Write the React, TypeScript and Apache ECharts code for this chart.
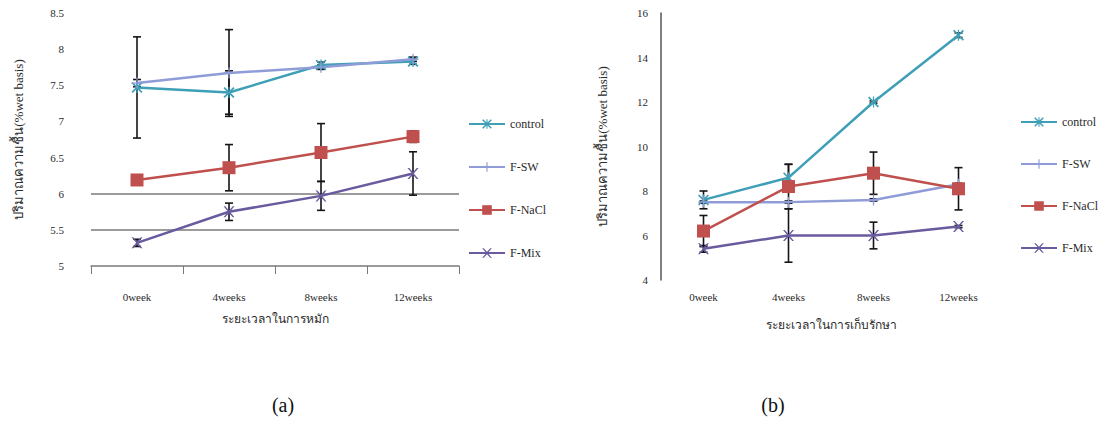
import React, { useEffect, useRef } from 'react';
import * as echarts from 'echarts';

const weeks = ['0week', '4weeks', '8weeks', '12weeks'];
const seriesNames = ['control', 'F-SW', 'F-NaCl', 'F-Mix'];

// chart (a)
const controlA = [7.47, 7.40, 7.78, 7.83];
const fswA = [7.53, 7.67, 7.75, 7.86];
const naclA = [6.19, 6.36, 6.57, 6.79];
const mixA = [5.32, 5.75, 5.97, 6.28];
const controlAErr = [0.7, 0.3, 0.04, 0.04];
const fswAErr = [0.05, 0.6, 0.03, 0.03];
const naclAErr = [0.03, 0.32, 0.4, 0.08];
const mixAErr = [0.05, 0.12, 0.2, 0.3];
const gridLinesA = [5.5, 6];

// chart (b)
const controlB = [7.6, 8.6, 12.0, 15.0];
const fswB = [7.5, 7.5, 7.6, 8.3];
const naclB = [6.2, 8.2, 8.8, 8.1];
const mixB = [5.4, 6.0, 6.0, 6.4];
const controlBErr = [0.4, 0.6, 0.05, 0.1];
const fswBErr = [0.05, 0.05, 0.05, 0.05];
const naclBErr = [0.7, 1.0, 0.95, 0.95];
const mixBErr = [0.15, 1.2, 0.6, 0.05];

const yTitle = 'ปริมาณความชื้น(%wet basis)';
const xTitleA = 'ระยะเวลาในการหมัก';
const xTitleB = 'ระยะเวลาในการเก็บรักษา';

const COLORS: Record<string, string> = {
  control: '#3E9FB6',
  'F-SW': '#8F9CD8',
  'F-NaCl': '#C0504D',
  'F-Mix': '#6A5A9E',
};

const X_PATH = 'path://M0,0 L1.6,0 L5,3.8 L8.4,0 L10,0 L5.8,5 L10,10 L8.4,10 L5,6.2 L1.6,10 L0,10 L4.2,5 Z';
const STAR_PATH =
  'path://M0,1.1 L1.1,0 L10,8.9 L8.9,10 Z M8.9,0 L10,1.1 L1.1,10 L0,8.9 Z M4.45,0 L5.55,0 L5.55,10 L4.45,10 Z';
const PLUS_PATH =
  'path://M4.4,0 L5.6,0 L5.6,4.4 L10,4.4 L10,5.6 L5.6,5.6 L5.6,10 L4.4,10 L4.4,5.6 L0,5.6 L0,4.4 L4.4,4.4 Z';

const SYMBOLS: Record<string, [string, number]> = {
  control: [STAR_PATH, 11],
  'F-SW': [PLUS_PATH, 11],
  'F-NaCl': ['rect', 13],
  'F-Mix': [X_PATH, 11],
};

const FONT = 'Liberation Serif';

function lineSeries(name: string, key: string, data: number[], gi: number, extra: any = {}) {
  const [symbol, size] = SYMBOLS[key];
  return {
    type: 'line',
    name,
    xAxisIndex: gi,
    yAxisIndex: gi,
    data,
    symbol,
    symbolSize: size,
    showSymbol: true,
    itemStyle: { color: COLORS[key] },
    lineStyle: { width: 2.5, color: COLORS[key] },
    z: 3,
    ...extra,
  };
}

function errSeries(vals: number[], errs: number[], gi: number) {
  return {
    type: 'custom',
    xAxisIndex: gi,
    yAxisIndex: gi,
    silent: true,
    z: 2,
    data: vals.map((v, i) => [i, v + errs[i], v - errs[i]]),
    renderItem: (params: any, api: any) => {
      const top = api.coord([api.value(0), api.value(1)]);
      const bot = api.coord([api.value(0), api.value(2)]);
      const w = 4;
      const style = { stroke: '#151515', lineWidth: 1.6 };
      return {
        type: 'group',
        children: [
          { type: 'line', shape: { x1: top[0], y1: top[1], x2: bot[0], y2: bot[1] }, style },
          { type: 'line', shape: { x1: top[0] - w, y1: top[1], x2: top[0] + w, y2: top[1] }, style },
          { type: 'line', shape: { x1: bot[0] - w, y1: bot[1], x2: bot[0] + w, y2: bot[1] }, style },
        ],
      };
    },
  };
}

export default function App() {
  const ref = useRef<HTMLDivElement>(null);
  useEffect(() => {
    document.body.style.margin = '0';
    const chart = echarts.init(ref.current!, null, { renderer: 'svg' });
    const textStyle = { fontFamily: FONT, fontSize: 11, color: '#2a2a2a' };
    const option: any = {
      animation: false,
      backgroundColor: '#ffffff',
      textStyle: { fontFamily: FONT },
      grid: [
        { left: 91, top: 13, width: 368, height: 253 },
        { left: 661, top: 13, width: 340, height: 267 },
      ],
      xAxis: [
        {
          type: 'category',
          gridIndex: 0,
          data: weeks,
          boundaryGap: true,
          axisLine: { show: true, lineStyle: { color: '#7a7a7a', width: 1.5 } },
          axisTick: { show: true, length: 8, lineStyle: { color: '#7a7a7a' } },
          axisLabel: { ...textStyle, margin: 25 },
          name: xTitleA,
          nameLocation: 'middle',
          nameGap: 47,
          nameTextStyle: { ...textStyle, fontSize: 12 },
        },
        {
          type: 'category',
          gridIndex: 1,
          data: weeks,
          boundaryGap: true,
          axisLine: { show: false },
          axisTick: { show: false },
          axisLabel: { ...textStyle, margin: 11 },
          name: xTitleB,
          nameLocation: 'middle',
          nameGap: 39,
          nameTextStyle: { ...textStyle, fontSize: 12 },
        },
      ],
      yAxis: [
        {
          type: 'value',
          gridIndex: 0,
          min: 5,
          max: 8.5,
          interval: 0.5,
          axisLine: { show: false },
          axisTick: { show: false },
          splitLine: { show: false },
          axisLabel: { ...textStyle, margin: 27 },
          name: yTitle,
          nameLocation: 'middle',
          nameGap: 66,
          nameTextStyle: { ...textStyle, fontSize: 13 },
        },
        {
          type: 'value',
          gridIndex: 1,
          min: 4,
          max: 16,
          interval: 2,
          axisLine: { show: true, lineStyle: { color: '#555', width: 1.5 } },
          axisTick: { show: false },
          splitLine: { show: false },
          axisLabel: { ...textStyle, margin: 13 },
          name: yTitle,
          nameLocation: 'middle',
          nameGap: 52,
          nameTextStyle: { ...textStyle, fontSize: 13 },
        },
      ],
      legend: [
        {
          orient: 'vertical',
          left: 463,
          top: 113,
          itemWidth: 36,
          itemHeight: 12,
          itemGap: 31,
          data: seriesNames,
          textStyle: { ...textStyle, fontSize: 12 },
        },
        {
          orient: 'vertical',
          left: 1015,
          top: 111,
          itemWidth: 36,
          itemHeight: 12,
          itemGap: 30,
          data: seriesNames.map((n) => n + '_b'),
          formatter: (n: string) => n.replace('_b', ''),
          textStyle: { ...textStyle, fontSize: 12 },
        },
      ],
      series: [
        errSeries(controlA, controlAErr, 0),
        errSeries(fswA, fswAErr, 0),
        errSeries(naclA, naclAErr, 0),
        errSeries(mixA, mixAErr, 0),
        lineSeries('control', 'control', controlA, 0),
        lineSeries('F-SW', 'F-SW', fswA, 0),
        lineSeries('F-NaCl', 'F-NaCl', naclA, 0),
        lineSeries('F-Mix', 'F-Mix', mixA, 0, {
          markLine: {
            silent: true,
            symbol: 'none',
            label: { show: false },
            lineStyle: { color: '#7a7a7a', width: 1.5, type: 'solid' },
            data: gridLinesA.map((v) => ({ yAxis: v })),
            z: 1,
          },
        }),
        errSeries(controlB, controlBErr, 1),
        errSeries(fswB, fswBErr, 1),
        errSeries(naclB, naclBErr, 1),
        errSeries(mixB, mixBErr, 1),
        lineSeries('control_b', 'control', controlB, 1),
        lineSeries('F-SW_b', 'F-SW', fswB, 1),
        lineSeries('F-NaCl_b', 'F-NaCl', naclB, 1),
        lineSeries('F-Mix_b', 'F-Mix', mixB, 1),
      ],
      graphic: [
        {
          type: 'text',
          x: 283,
          y: 405,
          style: { text: '(a)', font: '20px "Liberation Serif"', fill: '#111', textAlign: 'center', textVerticalAlign: 'middle' },
        },
        {
          type: 'text',
          x: 773,
          y: 405,
          style: { text: '(b)', font: '20px "Liberation Serif"', fill: '#111', textAlign: 'center', textVerticalAlign: 'middle' },
        },
      ],
    };
    chart.setOption(option);
    return () => chart.dispose();
  }, []);
  return <div ref={ref} style={{ width: 1104, height: 445 }} />;
}
